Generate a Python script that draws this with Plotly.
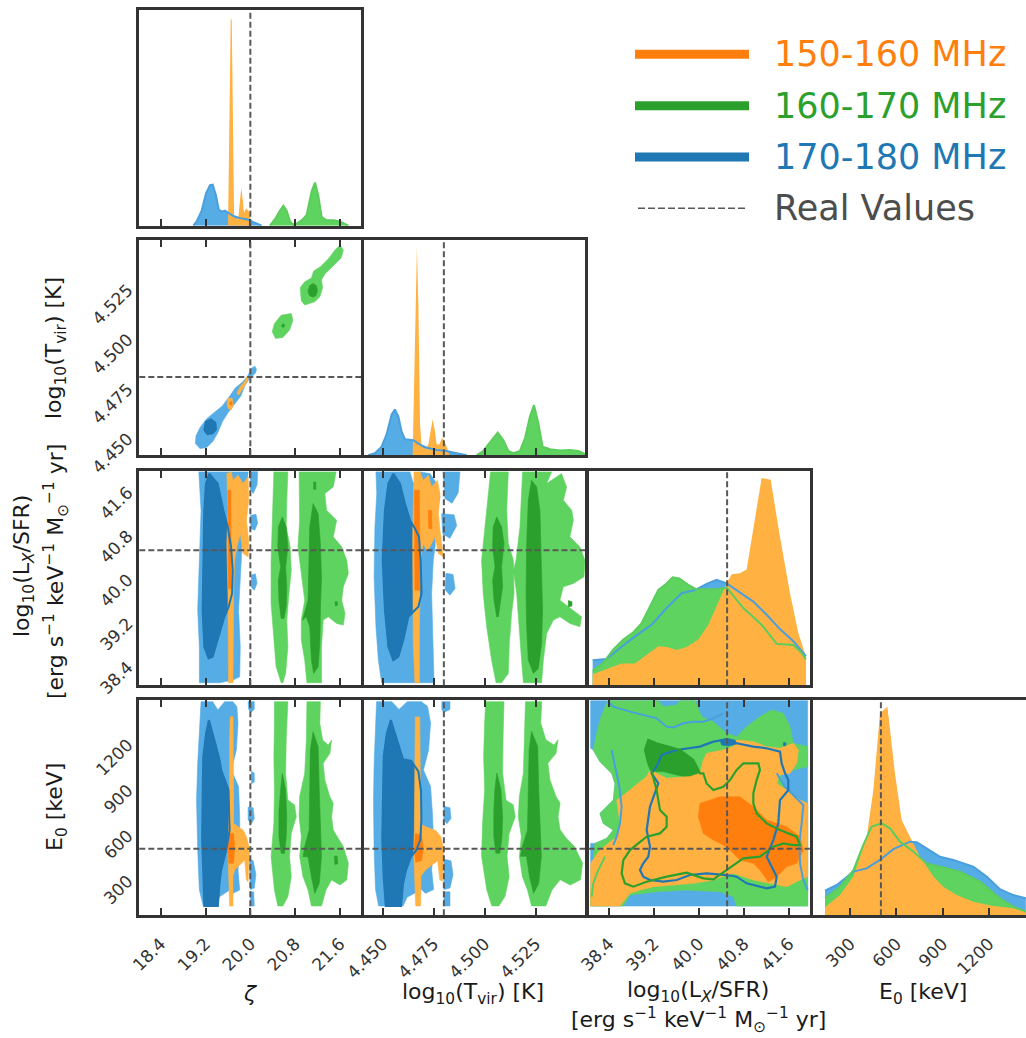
import plotly.graph_objects as go

# ------------------------------------------------------------------
# Parameters, true values and tick labels
# ------------------------------------------------------------------
PARAM_TRUE = [20.0, 4.48, 40.5, 500.0]  # zeta, log10 Tvir, log10 Lx/SFR, E0

ZETA_TICKS = [18.4, 19.2, 20.0, 20.8, 21.6]
ZETA_LABELS = ["18.4", "19.2", "20.0", "20.8", "21.6"]
TVIR_TICKS = [4.450, 4.475, 4.500, 4.525]
TVIR_LABELS = ["4.450", "4.475", "4.500", "4.525"]
LX_TICKS = [38.4, 39.2, 40.0, 40.8, 41.6]
LX_LABELS = ["38.4", "39.2", "40.0", "40.8", "41.6"]
E0_TICKS = [300, 600, 900, 1200]
E0_LABELS = ["300", "600", "900", "1200"]

BAND_NAMES = ["150-160 MHz", "160-170 MHz", "170-180 MHz"]
TRUTH_NAME = "Real Values"

# ------------------------------------------------------------------
# 1D marginal posteriors (normalised to the panel height)
# ------------------------------------------------------------------
ZETA_X_BLUE = [18.983, 19.042, 19.132, 19.209, 19.280, 19.328, 19.387, 19.435, 19.488,
               19.548, 19.607, 19.697, 19.816, 19.935, 20.024, 20.113, 20.202]
ZETA_P_BLUE = [0.0, 0.02, 0.07, 0.15, 0.188, 0.19, 0.14, 0.075, 0.065,
               0.07, 0.06, 0.045, 0.035, 0.03, 0.02, 0.01, 0.0]
ZETA_X_ORANGE = [19.602, 19.630, 19.650, 19.668, 19.690, 19.710, 19.744, 19.786, 19.816,
                 19.839, 19.863, 19.887, 19.923, 19.964, 19.994, 20.018]
ZETA_P_ORANGE = [0.0, 0.45, 0.963, 0.95, 0.45, 0.05, 0.03, 0.04, 0.12,
                 0.176, 0.12, 0.06, 0.08, 0.07, 0.05, 0.0]
ZETA_X_GREEN = [20.351, 20.440, 20.529, 20.589, 20.648, 20.708, 20.767, 20.827, 20.916, 21.005,
                21.094, 21.154, 21.213, 21.273, 21.362, 21.481, 21.600, 21.689, 21.749]
ZETA_P_GREEN = [0.0, 0.03, 0.07, 0.092, 0.07, 0.02, 0.005, 0.01, 0.025, 0.05,
                0.16, 0.2, 0.14, 0.04, 0.025, 0.025, 0.02, 0.01, 0.0]

TVIR_X_BLUE = [4.4430, 4.4462, 4.4495, 4.4520, 4.4544, 4.4560, 4.4577, 4.4593, 4.4609,
               4.4634, 4.4650, 4.4683, 4.4716, 4.4765, 4.4814, 4.4863, 4.4912]
TVIR_P_BLUE = [0.0, 0.01, 0.04, 0.10, 0.19, 0.213, 0.18, 0.11, 0.075,
               0.074, 0.07, 0.05, 0.035, 0.025, 0.02, 0.01, 0.0]
TVIR_X_ORANGE = [4.4647, 4.4655, 4.4663, 4.4668, 4.4675, 4.4683, 4.4691, 4.4708, 4.4724,
                 4.4735, 4.4745, 4.4755, 4.4765, 4.4778, 4.4791, 4.4801, 4.4814, 4.4827]
TVIR_P_ORANGE = [0.0, 0.4, 0.9, 0.966, 0.7, 0.15, 0.04, 0.03, 0.05,
                 0.12, 0.167, 0.12, 0.05, 0.05, 0.08, 0.07, 0.04, 0.0]
TVIR_X_GREEN = [4.4961, 4.4993, 4.5026, 4.5064, 4.5092, 4.5116, 4.5141, 4.5173, 4.5198,
                4.5222, 4.5242, 4.5263, 4.5284, 4.5320, 4.5369, 4.5418, 4.5459, 4.5492]
TVIR_P_GREEN = [0.0, 0.02, 0.06, 0.105, 0.07, 0.02, 0.01, 0.02, 0.08,
                0.18, 0.233, 0.15, 0.04, 0.028, 0.022, 0.025, 0.02, 0.005]

LX_X_BLUE = [38.110, 38.359, 38.596, 38.862, 39.159, 39.425, 39.692, 39.929, 40.136,
             40.314, 40.492, 40.788, 40.966, 41.203, 41.440, 41.677, 41.902]
LX_P_BLUE = [0.117, 0.123, 0.174, 0.228, 0.282, 0.36, 0.429, 0.444, 0.472,
             0.491, 0.475, 0.421, 0.39, 0.329, 0.262, 0.205, 0.136]
LX_X_GREEN = [38.110, 38.299, 38.477, 38.655, 38.833, 38.981, 39.129, 39.277, 39.396, 39.532, 39.650,
              39.810, 39.947, 40.136, 40.314, 40.492, 40.788, 41.114, 41.381, 41.677, 41.825, 41.902]
LX_P_GREEN = [0.066, 0.105, 0.167, 0.213, 0.247, 0.29, 0.367, 0.444, 0.468, 0.503, 0.498,
              0.468, 0.448, 0.448, 0.448, 0.455, 0.36, 0.282, 0.193, 0.188, 0.151, 0.12]
LX_X_ORANGE = [38.110, 38.418, 38.625, 38.862, 39.070, 39.277, 39.425, 39.603, 39.781, 39.988, 40.166, 40.344,
               40.492, 40.581, 40.729, 40.847, 40.966, 41.114, 41.274, 41.440, 41.618, 41.766, 41.902]
LX_P_ORANGE = [0.051, 0.082, 0.102, 0.102, 0.144, 0.182, 0.179, 0.164, 0.179, 0.213, 0.282, 0.383,
               0.475, 0.517, 0.522, 0.54, 0.738, 0.966, 0.958, 0.691, 0.429, 0.244, 0.133]

E0_X_BLUE = [138, 214, 322, 408, 494, 581, 688, 732, 796, 883, 969, 1098, 1185, 1271, 1357, 1439]
E0_P_BLUE = [0.115, 0.141, 0.203, 0.218, 0.257, 0.307, 0.342, 0.339, 0.311, 0.272, 0.257,
             0.226, 0.18, 0.121, 0.094, 0.079]
E0_X_GREEN = [138, 235, 322, 386, 440, 505, 559, 624, 710, 796, 883, 1012, 1142, 1271, 1357, 1439]
E0_P_GREEN = [0.079, 0.133, 0.21, 0.327, 0.412, 0.427, 0.404, 0.342, 0.296, 0.241, 0.226,
              0.203, 0.156, 0.079, 0.04, 0.017]
E0_X_ORANGE = [138, 235, 322, 408, 451, 494, 542, 591, 634, 688, 753, 840, 904, 991, 1098, 1228, 1357, 1439]
E0_P_ORANGE = [0.037, 0.094, 0.18, 0.365, 0.582, 0.938, 0.969, 0.66, 0.443, 0.365, 0.272, 0.18,
               0.133, 0.094, 0.063, 0.043, 0.033, 0.015]

# ------------------------------------------------------------------
# 2D credible regions (95% = light, 68% = dark), polygons in data units
# ------------------------------------------------------------------
# zeta vs log10 Tvir
ZT_BLUE_95 = [[(19.10, 4.4440), (19.02, 4.4465), (19.03, 4.4505), (19.10, 4.4545), (19.22, 4.4590),
               (19.36, 4.4625), (19.50, 4.4655), (19.62, 4.4700), (19.73, 4.4745), (19.86, 4.4775),
               (19.95, 4.4805), (20.02, 4.4845), (20.08, 4.4855), (20.11, 4.4840), (20.09, 4.4820),
               (19.99, 4.4795), (19.90, 4.4755), (19.83, 4.4705), (19.72, 4.4665), (19.60, 4.4620),
               (19.50, 4.4575), (19.42, 4.4520), (19.33, 4.4475), (19.22, 4.4445)]]
ZT_BLUE_68 = [[(19.178, 4.4533), (19.207, 4.4575), (19.297, 4.4587), (19.375, 4.4570),
               (19.387, 4.4536), (19.327, 4.4517), (19.237, 4.4513)]]
ZT_GREEN_95 = [[(21.60, 4.5465), (21.66, 4.5440), (21.62, 4.5400), (21.45, 4.5350), (21.33, 4.5320),
                (21.27, 4.5290), (21.29, 4.5250), (21.24, 4.5205), (21.15, 4.5180), (20.97, 4.5163),
                (20.91, 4.5185), (20.89, 4.5250), (20.97, 4.5280), (21.09, 4.5300), (21.13, 4.5335),
                (21.25, 4.5356), (21.39, 4.5395), (21.51, 4.5440)],
               [(20.73, 4.5121), (20.76, 4.5087), (20.70, 4.5037), (20.58, 4.5000), (20.45, 4.4995),
                (20.39, 4.5029), (20.43, 4.5070), (20.55, 4.5112)]]
ZT_GREEN_68 = [[(21.03, 4.5235), (21.06, 4.5262), (21.12, 4.5272), (21.18, 4.5260), (21.20, 4.5235),
                (21.17, 4.5210), (21.11, 4.5203), (21.05, 4.5213)],
               [(20.56, 4.5055), (20.57, 4.5068), (20.60, 4.5068), (20.61, 4.5056), (20.59, 4.5050)]]
ZT_ORANGE_95 = [[(19.602, 4.4693), (19.674, 4.4693), (19.698, 4.4659), (19.656, 4.4634),
                 (19.602, 4.4643), (19.584, 4.4668)],
                [(19.758, 4.4718), (19.818, 4.4752), (19.895, 4.4777), (19.937, 4.4802),
                 (19.973, 4.4799), (19.925, 4.4768), (19.853, 4.4738), (19.793, 4.4710)]]
ZT_ORANGE_68 = [[(19.63, 4.4672), (19.66, 4.4680), (19.68, 4.4668), (19.66, 4.4658), (19.63, 4.4662)]]

# zeta vs log10 Lx/SFR
ZL_BLUE_95 = [[(19.08, 41.935), (19.12, 41.234), (19.09, 40.32), (19.06, 39.406), (19.09, 38.735),
               (19.09, 38.077), (19.45, 38.077), (19.69, 38.126), (19.81, 38.187), (19.82, 38.735),
               (19.79, 39.406), (19.82, 40.015), (19.87, 40.93), (19.93, 41.54), (19.96, 41.935)],
              [(20.00, 41.94), (20.13, 41.94), (20.12, 41.70), (20.05, 41.54), (20.00, 41.62)],
              [(20.00, 41.14), (20.10, 41.16), (20.13, 41.00), (20.08, 40.87), (20.01, 40.90)],
              [(20.02, 40.05), (20.09, 40.07), (20.12, 39.90), (20.07, 39.77), (20.02, 39.82)]]
ZL_BLUE_68 = [[(19.267, 41.905), (19.417, 41.722), (19.518, 41.234), (19.596, 40.930), (19.656, 40.564),
               (19.686, 40.137), (19.674, 39.711), (19.614, 39.467), (19.536, 39.284), (19.417, 38.857),
               (19.327, 38.553), (19.255, 38.522), (19.178, 38.735), (19.148, 39.406), (19.160, 40.320),
               (19.178, 41.234), (19.207, 41.722)]]
ZL_GREEN_95 = [[(20.42, 41.935), (20.67, 41.935), (20.65, 41.417), (20.64, 40.930), (20.71, 40.564),
                (20.73, 40.137), (20.69, 39.710), (20.65, 39.223), (20.67, 38.735), (20.63, 38.248),
                (20.58, 38.077), (20.55, 38.077), (20.46, 38.369), (20.42, 38.857), (20.37, 39.528),
                (20.37, 40.320), (20.39, 40.930), (20.42, 41.540)],
               [(20.87, 41.935), (21.53, 41.935), (21.48, 41.661), (21.33, 41.540), (21.36, 41.234),
                (21.54, 41.051), (21.48, 40.747), (21.63, 40.564), (21.72, 40.320), (21.75, 40.076),
                (21.66, 39.833), (21.63, 39.589), (21.69, 39.345), (21.66, 39.132), (21.54, 39.162),
                (21.39, 39.284), (21.30, 39.223), (21.27, 38.735), (21.27, 38.077), (21.01, 38.077),
                (20.97, 38.491), (20.91, 38.857), (20.91, 39.223), (20.97, 39.589), (20.91, 40.076),
                (20.85, 40.564), (20.88, 41.051), (20.87, 41.540)]]
ZL_GREEN_68 = [[(20.57, 41.112), (20.64, 40.930), (20.67, 40.564), (20.63, 40.198), (20.65, 39.833),
                (20.64, 39.467), (20.60, 39.254), (20.55, 39.254), (20.51, 39.589), (20.50, 39.955),
                (20.54, 40.198), (20.49, 40.564), (20.50, 40.930)],
               [(21.12, 41.356), (21.21, 41.173), (21.25, 40.625), (21.27, 40.015), (21.25, 39.406),
                (21.24, 38.796), (21.21, 38.369), (21.13, 38.248), (21.09, 38.491), (21.06, 39.101),
                (21.00, 39.284), (20.93, 39.223), (21.03, 39.589), (21.05, 40.320), (21.06, 40.930)],
               [(21.51, 39.56), (21.55, 39.56), (21.56, 39.50), (21.52, 39.48)],
               [(21.13, 41.75), (21.17, 41.75), (21.17, 41.62), (21.13, 41.62)]]
ZL_ORANGE_95 = [[(19.58, 41.905), (19.66, 41.935), (19.69, 41.783), (19.78, 41.874), (19.87, 41.722),
                 (19.96, 41.844), (19.97, 41.417), (19.93, 41.051), (19.97, 40.686), (19.96, 40.381),
                 (19.87, 40.442), (19.82, 40.808), (19.76, 40.564), (19.72, 40.320), (19.70, 39.710),
                 (19.70, 39.100), (19.69, 38.490), (19.69, 38.077), (19.61, 38.077), (19.61, 38.796),
                 (19.60, 39.710), (19.58, 40.625), (19.60, 41.234)]]
ZL_ORANGE_68 = [[(19.60, 41.60), (19.65, 41.60), (19.66, 39.80), (19.61, 39.80)]]

# zeta vs E0
ZE_BLUE_95 = [[(19.12, 1470.7), (19.33, 1470.7), (19.42, 1415.7), (19.54, 1470.7), (19.69, 1470.7),
               (19.76, 1437.7), (19.78, 1327.7), (19.75, 1151.6), (19.66, 1019.6), (19.79, 909.5),
               (19.81, 711.4), (19.81, 513.3), (19.78, 359.2), (19.81, 227.1), (19.69, 205.1),
               (19.63, 227.1), (19.45, 183.1), (19.39, 121.5), (19.16, 121.5), (19.09, 227.1),
               (19.06, 491.3), (19.04, 821.4), (19.06, 1063.6), (19.09, 1283.6)],
              [(19.96, 1471), (20.07, 1471), (20.07, 1420), (20.01, 1400), (19.97, 1420)],
              [(20.02, 1010), (20.07, 1000), (20.07, 940), (20.02, 930)],
              [(19.96, 775), (20.05, 770), (20.07, 700), (20.02, 665), (19.96, 690)],
              [(19.98, 430), (20.05, 420), (20.10, 330), (20.07, 240), (20.00, 230)],
              [(20.00, 215), (20.06, 215), (20.07, 121.5), (20.00, 121.5)]]
ZE_BLUE_68 = [[(19.26, 1349.7), (19.33, 1261.6), (19.39, 1173.6), (19.45, 1085.5), (19.48, 1019.6),
               (19.61, 887.5), (19.63, 623.3), (19.57, 491.3), (19.48, 359.2), (19.45, 271.1),
               (19.42, 121.5), (19.18, 121.5), (19.16, 315.2), (19.14, 557.3), (19.15, 887.5),
               (19.16, 1107.6), (19.21, 1261.6)]]
ZE_GREEN_95 = [[(20.43, 1470.7), (20.67, 1470.7), (20.64, 1217.6), (20.63, 997.5), (20.67, 821.4),
                (20.79, 788.4), (20.82, 711.4), (20.73, 601.3), (20.70, 447.2), (20.73, 315.2),
                (20.67, 183.1), (20.58, 121.5), (20.49, 121.5), (20.43, 227.1), (20.37, 447.2),
                (20.42, 667.4), (20.43, 887.5), (20.42, 1107.6), (20.43, 1327.7)],
               [(21.01, 1470.7), (21.25, 1470.7), (21.24, 1327.7), (21.29, 1217.6), (21.39, 1184.6),
                (21.45, 1217.6), (21.42, 1129.6), (21.30, 1063.6), (21.33, 953.5), (21.42, 843.4),
                (21.48, 799.4), (21.45, 711.4), (21.48, 623.3), (21.57, 568.3), (21.66, 513.3),
                (21.75, 403.2), (21.72, 293.2), (21.60, 260.1), (21.45, 293.2), (21.35, 227.1),
                (21.27, 121.5), (21.09, 121.5), (21.03, 227.1), (20.94, 315.2), (20.88, 447.2),
                (20.91, 579.3), (20.87, 711.4), (20.88, 843.4), (20.97, 997.5), (21.00, 1217.6)]]
ZE_GREEN_68 = [[(20.57, 997.5), (20.63, 887.5), (20.65, 711.4), (20.64, 579.3), (20.61, 469.2),
                (20.55, 469.2), (20.51, 579.3), (20.51, 755.4), (20.54, 887.5)],
               [(21.12, 1272.6), (21.21, 1173.6), (21.23, 887.5), (21.25, 623.3), (21.27, 447.2),
                (21.23, 271.1), (21.15, 205.1), (21.09, 315.2), (21.03, 447.2), (20.94, 447.2),
                (20.97, 513.3), (21.05, 623.3), (21.06, 887.5), (21.07, 1151.6)],
               [(21.50, 450), (21.55, 450), (21.56, 400), (21.51, 395)]]
ZE_ORANGE_95 = [[(19.64, 1371.7), (19.69, 1371.7), (19.70, 887.5), (19.70, 667.4), (19.78, 645.3),
                 (19.87, 623.3), (19.93, 579.3), (19.99, 491.3), (19.97, 403.2), (19.96, 282.1),
                 (19.93, 293.2), (19.90, 425.2), (19.81, 392.2), (19.72, 359.2), (19.69, 315.2),
                 (19.69, 121.5), (19.63, 121.5), (19.61, 315.2), (19.60, 491.3), (19.61, 623.3),
                 (19.63, 887.5), (19.63, 1217.6)]]
ZE_ORANGE_68 = [[(19.61, 601), (19.70, 601), (19.72, 500), (19.70, 403), (19.62, 403), (19.60, 500)]]

# log10 Tvir vs log10 Lx/SFR
TL_BLUE_95 = [[(4.4467, 41.935), (4.4634, 41.935), (4.4650, 41.722), (4.4683, 41.935), (4.4732, 41.905),
               (4.4765, 41.722), (4.4781, 41.478), (4.4761, 41.051), (4.4757, 40.564), (4.4748, 40.320),
               (4.4740, 39.710), (4.4745, 39.101), (4.4748, 38.491), (4.4752, 38.077), (4.4495, 38.077),
               (4.4479, 38.491), (4.4467, 39.101), (4.4458, 40.015), (4.4462, 40.930), (4.4471, 41.540)],
              [(4.4797, 41.935), (4.4879, 41.935), (4.4870, 41.55), (4.4840, 41.36), (4.4805, 41.45)],
              [(4.4789, 41.17), (4.4850, 41.15), (4.4863, 40.95), (4.4830, 40.72), (4.4795, 40.80)],
              [(4.4810, 40.08), (4.4845, 40.06), (4.4855, 39.80), (4.4830, 39.68), (4.4806, 39.78)]]
TL_BLUE_68 = [[(4.4552, 41.905), (4.4585, 41.722), (4.4609, 41.356), (4.4634, 41.051), (4.4658, 40.899),
               (4.4678, 40.747), (4.4686, 40.320), (4.4691, 39.711), (4.4675, 39.467), (4.4650, 39.375),
               (4.4626, 39.284), (4.4601, 38.857), (4.4577, 38.553), (4.4552, 38.491), (4.4528, 38.735),
               (4.4511, 39.406), (4.4500, 40.320), (4.4511, 41.234), (4.4528, 41.722)]]
TL_GREEN_95 = [[(4.5029, 41.935), (4.5116, 41.935), (4.5108, 41.234), (4.5116, 40.625), (4.5141, 40.320),
                (4.5144, 39.710), (4.5132, 39.345), (4.5121, 38.796), (4.5116, 38.248), (4.5083, 38.077),
                (4.5056, 38.077), (4.5034, 38.491), (4.5010, 39.101), (4.4993, 39.710), (4.4985, 40.320),
                (4.5002, 40.930), (4.5018, 41.540)],
               [(4.5186, 41.935), (4.5328, 41.935), (4.5304, 41.722), (4.5377, 41.905), (4.5402, 41.661),
                (4.5386, 41.417), (4.5427, 41.234), (4.5435, 41.051), (4.5418, 40.747), (4.5467, 40.564),
                (4.5492, 40.320), (4.5487, 40.015), (4.5435, 39.894), (4.5386, 39.833), (4.5369, 39.589),
                (4.5435, 39.406), (4.5475, 39.284), (4.5467, 39.101), (4.5418, 39.162), (4.5369, 39.284),
                (4.5337, 39.223), (4.5304, 38.979), (4.5288, 38.491), (4.5279, 38.077), (4.5190, 38.077),
                (4.5181, 38.491), (4.5170, 39.101), (4.5157, 39.710), (4.5141, 40.137), (4.5154, 40.320),
                (4.5173, 40.930), (4.5181, 41.540)]]
TL_GREEN_68 = [[(4.5059, 41.112), (4.5083, 40.930), (4.5095, 40.625), (4.5083, 40.198), (4.5088, 39.833),
                (4.5075, 39.467), (4.5067, 39.284), (4.5059, 39.284), (4.5046, 39.589), (4.5039, 39.955),
                (4.5051, 40.198), (4.5039, 40.564), (4.5042, 40.930)],
               [(4.5230, 41.783), (4.5255, 41.661), (4.5271, 41.234), (4.5279, 40.320), (4.5284, 39.406),
                (4.5279, 38.796), (4.5263, 38.339), (4.5239, 38.248), (4.5214, 38.491), (4.5206, 39.101),
                (4.5203, 39.710), (4.5206, 40.625), (4.5214, 41.417)],
               [(4.5410, 39.58), (4.5428, 39.56), (4.5428, 39.48), (4.5410, 39.47)]]
TL_ORANGE_95 = [[(4.4654, 41.935), (4.4683, 41.935), (4.4699, 41.783), (4.4724, 41.874), (4.4740, 41.661),
                 (4.4768, 41.783), (4.4781, 41.540), (4.4773, 41.173), (4.4781, 40.869), (4.4789, 40.625),
                 (4.4797, 40.381), (4.4773, 40.442), (4.4757, 40.747), (4.4732, 40.564), (4.4716, 40.503),
                 (4.4699, 40.625), (4.4686, 40.320), (4.4683, 39.710), (4.4680, 39.101), (4.4680, 38.077),
                 (4.4658, 38.077), (4.4650, 38.796), (4.4647, 39.710), (4.4647, 40.625), (4.4650, 41.417)]]
TL_ORANGE_68 = [[(4.4655, 41.60), (4.4680, 41.60), (4.4683, 39.77), (4.4658, 39.77)],
                [(4.4724, 41.23), (4.4740, 41.23), (4.4742, 40.90), (4.4726, 40.90)]]

# log10 Tvir vs E0
TE_BLUE_95 = [[(4.4470, 1471), (4.4545, 1471), (4.4580, 1420), (4.4620, 1471), (4.4690, 1471),
               (4.4720, 1440), (4.4735, 1330), (4.4725, 1150), (4.4700, 1020), (4.4735, 910),
               (4.4745, 710), (4.4750, 510), (4.4740, 360), (4.4750, 230), (4.4710, 205),
               (4.4690, 230), (4.4620, 180), (4.4600, 122), (4.4480, 122), (4.4465, 230),
               (4.4458, 490), (4.4455, 820), (4.4458, 1060), (4.4465, 1280)],
              [(4.4790, 1471), (4.4830, 1471), (4.4830, 1420), (4.4800, 1400), (4.4790, 1420)],
              [(4.4800, 780), (4.4830, 770), (4.4835, 700), (4.4815, 665), (4.4800, 690)],
              [(4.4800, 430), (4.4835, 420), (4.4845, 330), (4.4830, 240), (4.4800, 230)],
              [(4.4800, 215), (4.4830, 215), (4.4830, 122), (4.4800, 122)]]
TE_BLUE_68 = [[(4.4540, 1350), (4.4560, 1260), (4.4580, 1170), (4.4600, 1090), (4.4640, 1080),
               (4.4675, 1010), (4.4688, 880), (4.4690, 700), (4.4685, 560), (4.4665, 490),
               (4.4640, 450), (4.4615, 360), (4.4600, 270), (4.4590, 122), (4.4515, 122),
               (4.4505, 315), (4.4498, 560), (4.4500, 890), (4.4505, 1110), (4.4520, 1260)]]
TE_GREEN_95 = [[(4.5005, 1471), (4.5095, 1471), (4.5090, 1220), (4.5088, 1000), (4.5105, 820),
                (4.5140, 790), (4.5150, 710), (4.5120, 600), (4.5110, 450), (4.5120, 315),
                (4.5100, 185), (4.5070, 122), (4.5035, 122), (4.5010, 230), (4.4985, 450),
                (4.4990, 670), (4.5000, 890), (4.4995, 1110), (4.5000, 1330)],
               [(4.5200, 1471), (4.5280, 1471), (4.5275, 1330), (4.5300, 1220), (4.5340, 1185),
                (4.5360, 1220), (4.5350, 1130), (4.5310, 1065), (4.5320, 955), (4.5350, 845),
                (4.5370, 800), (4.5360, 710), (4.5370, 625), (4.5400, 570), (4.5440, 515),
                (4.5480, 405), (4.5470, 295), (4.5420, 260), (4.5370, 295), (4.5330, 227),
                (4.5300, 122), (4.5230, 122), (4.5210, 227), (4.5185, 315), (4.5170, 450),
                (4.5180, 580), (4.5165, 710), (4.5170, 845), (4.5190, 1000), (4.5195, 1220)]]
TE_GREEN_68 = [[(4.5060, 1000), (4.5080, 890), (4.5088, 710), (4.5085, 580), (4.5075, 470),
                (4.5055, 470), (4.5045, 580), (4.5045, 755), (4.5050, 890)],
               [(4.5230, 1275), (4.5260, 1175), (4.5265, 890), (4.5272, 620), (4.5278, 450),
                (4.5265, 270), (4.5240, 205), (4.5220, 315), (4.5205, 450), (4.5175, 450),
                (4.5185, 515), (4.5210, 620), (4.5215, 890), (4.5218, 1150)]]
TE_ORANGE_95 = [[(4.4660, 1370), (4.4682, 1370), (4.4685, 900), (4.4688, 660), (4.4720, 640),
                 (4.4760, 620), (4.4785, 580), (4.4800, 490), (4.4798, 400), (4.4792, 285),
                 (4.4780, 295), (4.4770, 420), (4.4740, 390), (4.4710, 360), (4.4688, 320),
                 (4.4686, 122), (4.4662, 122), (4.4658, 320), (4.4652, 490), (4.4655, 620),
                 (4.4658, 900), (4.4658, 1210)]]
TE_ORANGE_68 = [[(4.4660, 600), (4.4690, 590), (4.4700, 500), (4.4690, 420), (4.4662, 410), (4.4655, 500)]]

# log10 Lx/SFR vs E0
LE_BLUE_95 = [[(38.074, 1477), (41.932, 1477), (41.932, 121.5), (38.074, 121.5), (38.074, 535),
               (38.151, 535), (38.359, 568), (38.477, 623), (38.299, 667), (38.240, 733),
               (38.477, 821), (38.507, 931), (38.447, 998), (38.240, 1075), (38.121, 1152),
               (38.074, 1163)]]
LE_GREEN_95 = [[(38.388, 1477), (39.277, 1477), (39.366, 1438), (39.603, 1449), (39.662, 1477),
                (39.929, 1477), (40.047, 1372), (40.255, 1339), (40.492, 1262), (40.670, 1240),
                (40.847, 1306), (41.084, 1372), (41.292, 1416), (41.499, 1394), (41.618, 1306),
                (41.677, 1196), (41.932, 1174), (41.932, 1042), (41.677, 1020), (41.440, 987),
                (41.529, 909), (41.796, 821), (41.932, 799), (41.932, 121.5), (40.670, 121.5),
                (40.610, 183), (40.373, 216), (39.781, 227), (39.247, 216), (38.773, 194),
                (38.655, 121.5), (38.074, 121.5), (38.074, 227), (38.151, 315), (38.181, 403),
                (38.121, 447), (38.151, 535), (38.359, 568), (38.477, 623), (38.299, 667),
                (38.240, 733), (38.477, 821), (38.507, 931), (38.447, 998), (38.240, 1075),
                (38.121, 1152), (38.181, 1262), (38.240, 1350), (38.329, 1438)]]
LE_GREEN_68 = [[(39.099, 1218), (39.247, 1196), (39.662, 1152), (39.899, 1086), (40.018, 998),
                (39.899, 965), (39.603, 987), (39.366, 1009), (39.159, 1009), (39.099, 1064),
                (39.040, 1152)]]
LE_ORANGE_95 = [[(38.074, 403), (38.240, 491), (38.536, 579), (38.596, 667), (38.536, 821),
                 (38.625, 843), (39.070, 976), (39.129, 1020), (39.425, 965), (39.840, 976),
                 (40.018, 998), (40.077, 1086), (40.136, 1130), (40.433, 1152), (40.610, 1174),
                 (40.670, 1218), (40.966, 1207), (41.203, 1174), (41.440, 1163), (41.677, 1196),
                 (41.766, 1152), (41.736, 1064), (41.618, 998), (41.440, 987), (41.381, 931),
                 (41.559, 887), (41.796, 821), (41.932, 799), (41.932, 315), (41.796, 293),
                 (41.559, 249), (40.966, 293), (40.788, 315), (40.610, 337), (40.492, 326),
                 (40.255, 293), (39.899, 271), (39.544, 260), (39.188, 249), (38.951, 227),
                 (38.773, 205), (38.596, 121.5), (38.074, 121.5)]]
LE_ORANGE_68 = [[(40.018, 799), (40.373, 843), (40.729, 843), (40.966, 777), (41.203, 689),
                 (41.559, 645), (41.796, 579), (41.855, 491), (41.736, 403), (41.559, 381),
                 (41.381, 315), (41.233, 282), (41.084, 359), (40.966, 403), (40.729, 425),
                 (40.492, 513), (40.255, 557), (40.077, 601), (39.988, 711)]]
LE_BLUE_68_PEAK = [[(40.373, 1218), (40.492, 1229), (40.640, 1218), (40.670, 1191), (40.522, 1178),
                    (40.403, 1185)],
                   [(41.50, 1200), (41.545, 1200), (41.545, 1180), (41.50, 1180)]]
LE_BLUE_68_EDGE = [[(39.247, 1042), (39.336, 1119), (39.603, 1152), (40.018, 1174), (40.255, 1207),
                    (40.492, 1222), (40.670, 1196), (40.966, 1174), (41.203, 1163), (41.440, 1141),
                    (41.470, 1064), (41.529, 998), (41.588, 953), (41.588, 887), (41.440, 821),
                    (41.410, 667), (41.322, 557), (41.203, 447), (41.292, 381), (41.381, 315),
                    (41.351, 249), (41.203, 238), (40.847, 271), (40.670, 315), (40.492, 326),
                    (40.136, 337), (39.840, 326), (39.603, 293), (39.366, 282), (39.129, 293),
                    (39.010, 315), (38.951, 359), (39.010, 403), (39.099, 447), (39.129, 513),
                    (39.070, 623), (39.129, 777), (39.218, 865), (39.277, 931), (39.159, 998),
                    (39.247, 1042)]]
LE_GREEN_68_EDGE = [[(39.159, 1009), (39.247, 887), (39.277, 821), (39.307, 755), (39.425, 711),
                     (39.425, 645), (39.307, 601), (39.070, 579), (38.921, 535), (38.773, 491),
                     (38.655, 425), (38.625, 337), (38.684, 271), (38.833, 249), (39.070, 282),
                     (39.425, 315), (39.781, 341), (40.077, 304), (40.255, 297), (40.492, 359),
                     (40.788, 436), (41.084, 447), (41.322, 513), (41.499, 535), (41.677, 524),
                     (41.796, 524), (41.736, 579), (41.440, 623), (41.203, 667), (41.025, 733),
                     (40.966, 799), (40.966, 865), (41.025, 953), (41.084, 1020), (41.055, 1064),
                     (40.907, 1064), (40.788, 1064), (40.670, 1020), (40.551, 953), (40.433, 909),
                     (40.255, 887), (40.136, 931), (40.077, 998), (40.018, 998), (39.899, 1086),
                     (39.662, 1152), (39.247, 1196), (39.099, 1218), (39.040, 1152), (39.099, 1064),
                     (39.159, 1009)]]
LE_BLUE_95_EDGE = [[(38.388, 1471), (38.477, 1438), (38.773, 1405), (39.247, 1361), (39.425, 1306),
                    (39.544, 1301), (39.721, 1328), (39.899, 1339), (40.077, 1339), (40.255, 1361),
                    (40.433, 1394)],
                   [(38.447, 1152), (38.507, 1042), (38.584, 909), (38.625, 777), (38.596, 667),
                    (38.536, 579), (38.477, 524)],
                   [(41.381, 998), (41.529, 909), (41.766, 821), (41.855, 788), (41.825, 667),
                    (41.784, 535), (41.796, 403), (41.855, 293), (41.932, 227)]]
LE_GREEN_95_EDGE = [[(38.092, 183), (38.121, 271), (38.210, 359), (38.329, 447)]]

# ------------------------------------------------------------------
# Styling and panel geometry (pixels of the 1026 x 1038 canvas)
# ------------------------------------------------------------------
W, H = 1026, 1038
BLUE, BLUE_L, BLUE_LINE = "#1f77b4", "#56ace5", "#4a9fdc"
GREEN, GREEN_L, GREEN_LINE = "#2ca02c", "#5fd35f", "#5ccd5c"
ORANGE, ORANGE_L = "#ff7f0e", "#ffb142"
AXIS_COLOR = "#333333"
TRUTH_COLOR = "#585858"
FONT = "DejaVu Sans"

COL_PX = [(139.3, 361.0), (363.5, 585.0), (588.5, 809.8), (813.0, 1026.0)]
ROW_PX = [(10.0, 225.7), (240.0, 455.3), (470.7, 685.3), (700.0, 915.3)]
X_RANGES = [[18.018, 21.975], [4.4406, 4.5492], [38.036, 41.970], [60.0, 1440.0]]
Y_RANGES = [None, [4.4406, 4.5491], [38.030, 41.958], [60.0, 1482.0]]
TICKS = [(ZETA_TICKS, ZETA_LABELS), (TVIR_TICKS, TVIR_LABELS), (LX_TICKS, LX_LABELS), (E0_TICKS, E0_LABELS)]

MARGINALS = [
    [(ZETA_X_BLUE, ZETA_P_BLUE), (ZETA_X_GREEN, ZETA_P_GREEN), (ZETA_X_ORANGE, ZETA_P_ORANGE)],
    [(TVIR_X_BLUE, TVIR_P_BLUE), (TVIR_X_GREEN, TVIR_P_GREEN), (TVIR_X_ORANGE, TVIR_P_ORANGE)],
    [(LX_X_BLUE, LX_P_BLUE), (LX_X_GREEN, LX_P_GREEN), (LX_X_ORANGE, LX_P_ORANGE)],
    [(E0_X_BLUE, E0_P_BLUE), (E0_X_GREEN, E0_P_GREEN), (E0_X_ORANGE, E0_P_ORANGE)],
]

REGIONS = {
    (1, 0): [ZT_BLUE_95, ZT_BLUE_68, ZT_GREEN_95, ZT_GREEN_68, ZT_ORANGE_95, ZT_ORANGE_68],
    (2, 0): [ZL_BLUE_95, ZL_BLUE_68, ZL_GREEN_95, ZL_GREEN_68, ZL_ORANGE_95, ZL_ORANGE_68],
    (3, 0): [ZE_BLUE_95, ZE_BLUE_68, ZE_GREEN_95, ZE_GREEN_68, ZE_ORANGE_95, ZE_ORANGE_68],
    (2, 1): [TL_BLUE_95, TL_BLUE_68, TL_GREEN_95, TL_GREEN_68, TL_ORANGE_95, TL_ORANGE_68],
    (3, 1): [TE_BLUE_95, TE_BLUE_68, TE_GREEN_95, TE_GREEN_68, TE_ORANGE_95, TE_ORANGE_68],
    (3, 2): [LE_BLUE_95, None, LE_GREEN_95, LE_GREEN_68, LE_ORANGE_95, LE_ORANGE_68],
}
REGION_COLORS = [BLUE_L, BLUE, GREEN_L, GREEN, ORANGE_L, ORANGE]


def px_x(p):
    return p / W


def px_y(p):
    return 1.0 - p / H


fig = go.Figure()
layout = {}
shapes = []
annotations = []

panel_id = {}
k = 0
for r in range(4):
    for c in range(r + 1):
        k += 1
        panel_id[(r, c)] = k


def axis_refs(n):
    return ("x" if n == 1 else f"x{n}"), ("y" if n == 1 else f"y{n}")


def layout_key(kind, n):
    return kind if n == 1 else f"{kind}{n}"


def base_axis(**kw):
    d = dict(showgrid=False, zeroline=False, showline=True, linecolor=AXIS_COLOR, linewidth=3,
             ticks="inside", ticklen=7, tickwidth=2, tickcolor=AXIS_COLOR, automargin=False,
             tickfont=dict(family=FONT, size=17, color=AXIS_COLOR), fixedrange=True)
    d.update(kw)
    return d


def polygons_xy(polys):
    xs, ys = [], []
    for poly in polys:
        px, py = zip(*poly)
        xs += list(px) + [px[0], None]
        ys += list(py) + [py[0], None]
    return xs, ys


def add_fill(xa, ya, polys, color):
    xs, ys = polygons_xy(polys)
    fig.add_trace(go.Scatter(x=xs, y=ys, xaxis=xa, yaxis=ya, mode="lines", fill="toself",
                             fillcolor=color, line=dict(color=color, width=0.6),
                             hoverinfo="skip", showlegend=False))


def add_edge(xa, ya, polys, color, width, closed=False):
    xs, ys = [], []
    for poly in polys:
        px, py = zip(*poly)
        xs += list(px) + ([px[0]] if closed else []) + [None]
        ys += list(py) + ([py[0]] if closed else []) + [None]
    fig.add_trace(go.Scatter(x=xs, y=ys, xaxis=xa, yaxis=ya, mode="lines",
                             line=dict(color=color, width=width),
                             hoverinfo="skip", showlegend=False))


extra_y = 20
for (r, c), n in panel_id.items():
    xa, ya = axis_refs(n)
    x0, x1 = COL_PX[c]
    y0, y1 = ROW_PX[r]
    xdom = [px_x(x0), min(1.0, px_x(x1))]
    ydom = [px_y(y1), px_y(y0)]
    tickvals, ticktext = TICKS[c]
    bottom = r == 3
    diag = r == c

    layout[layout_key("xaxis", n)] = base_axis(
        domain=xdom, anchor=ya, range=X_RANGES[c], tickvals=tickvals, ticktext=ticktext,
        showticklabels=bottom, tickangle=-45, ticklabelstandoff=9,
        mirror=True if diag else "allticks")

    if diag:
        layout[layout_key("yaxis", n)] = base_axis(
            domain=ydom, anchor=xa, range=[0, 1.0], ticks="", showticklabels=False,
            mirror=(c < 3))
        fills = MARGINALS[c]
        for (mx, mp), col in zip(fills, [BLUE_L, GREEN_L, ORANGE_L]):
            fig.add_trace(go.Scatter(x=mx, y=mp, xaxis=xa, yaxis=ya, mode="lines", fill="tozeroy",
                                     fillcolor=col, line=dict(color=col, width=0),
                                     hoverinfo="skip", showlegend=False))
        for (mx, mp), col in zip(fills[:2], [BLUE_LINE, GREEN_LINE]):
            fig.add_trace(go.Scatter(x=mx, y=mp, xaxis=xa, yaxis=ya, mode="lines",
                                     line=dict(color=col, width=2),
                                     hoverinfo="skip", showlegend=False))
    else:
        ytv, ytt = TICKS[r]
        layout[layout_key("yaxis", n)] = base_axis(
            domain=ydom, anchor=xa, range=Y_RANGES[r], tickvals=ytv, ticktext=ytt,
            ticks="", showticklabels=(c == 0), tickangle=-45, ticklabelstandoff=5, mirror=True)
        # right-hand inward ticks
        extra_y += 1
        layout[f"yaxis{extra_y}"] = base_axis(
            overlaying=ya, side="right", anchor=xa, range=Y_RANGES[r], tickvals=ytv,
            showticklabels=False, showline=False)

        regions = REGIONS[(r, c)]
        for polys, col in zip(regions, REGION_COLORS):
            if polys:
                add_fill(xa, ya, polys, col)
        if (r, c) == (3, 2):
            add_fill(xa, ya, LE_BLUE_68_PEAK, BLUE)
            add_edge(xa, ya, LE_BLUE_95_EDGE, BLUE_LINE, 2)
            add_edge(xa, ya, LE_GREEN_95_EDGE, GREEN_LINE, 2)
            add_edge(xa, ya, LE_BLUE_68_EDGE, BLUE, 2.2, closed=True)
            add_edge(xa, ya, LE_GREEN_68_EDGE, GREEN, 2.2, closed=True)
        else:
            add_edge(xa, ya, regions[1], BLUE, 2, closed=True)

        shapes.append(dict(type="line", xref=f"{xa} domain", yref=ya, x0=0, x1=1,
                           y0=PARAM_TRUE[r], y1=PARAM_TRUE[r], layer="above",
                           line=dict(color=TRUTH_COLOR, width=2, dash="6px,3px")))
    shapes.append(dict(type="line", xref=xa, yref=f"{ya} domain", x0=PARAM_TRUE[c], x1=PARAM_TRUE[c],
                       y0=0, y1=1, layer="above",
                       line=dict(color=TRUTH_COLOR, width=2, dash="6px,3px")))

# ------------------------------------------------------------------
# Axis titles
# ------------------------------------------------------------------
TITLE_FONT = dict(family=FONT, size=22, color="#1a1a1a")
ZETA_TITLE = "<i>ζ</i>"
TVIR_TITLE = "log<sub>10</sub>(T<sub>vir</sub>) [K]"
LX_TITLE = "log<sub>10</sub>(L<sub><i>X</i></sub>/SFR)"
LX_UNITS = "[erg s<sup>−1</sup> keV<sup>−1</sup> M<sub>⊙</sub><sup>−1</sup> yr]"
E0_TITLE = "E<sub>0</sub> [keV]"


def title(text, xc, yc, angle=0):
    annotations.append(dict(text=text, xref="paper", yref="paper", x=px_x(xc), y=px_y(yc),
                            xanchor="center", yanchor="middle", showarrow=False,
                            textangle=angle, font=TITLE_FONT))


title(ZETA_TITLE, 250, 993)
title(TVIR_TITLE, 473, 993)
title(E0_TITLE, 923, 993)
title(LX_TITLE, 698, 991)
title(LX_UNITS, 698, 1020)
title(TVIR_TITLE, 56, 348, -90)
title(LX_TITLE, 23, 566, -90)
title(LX_UNITS, 56, 572, -90)
title(E0_TITLE, 56, 807, -90)

# ------------------------------------------------------------------
# Legend (drawn in paper coordinates)
# ------------------------------------------------------------------
LEGEND_COLORS = [ORANGE, GREEN, BLUE]
LEGEND_ROWS = [54.3, 105.7, 157.0]
for name, col, yc in zip(BAND_NAMES, LEGEND_COLORS, LEGEND_ROWS):
    shapes.append(dict(type="line", xref="paper", yref="paper", x0=px_x(635), x1=px_x(749),
                       y0=px_y(yc), y1=px_y(yc), line=dict(color=col, width=9)))
    annotations.append(dict(text=name, xref="paper", yref="paper", x=px_x(772), y=px_y(yc),
                            xanchor="left", yanchor="middle", showarrow=False,
                            font=dict(family=FONT, size=35, color=col)))
shapes.append(dict(type="line", xref="paper", yref="paper", x0=px_x(638), x1=px_x(745),
                   y0=px_y(208.3), y1=px_y(208.3),
                   line=dict(color=TRUTH_COLOR, width=1.5, dash="7px,3px")))
annotations.append(dict(text=TRUTH_NAME, xref="paper", yref="paper", x=px_x(772), y=px_y(208.3),
                        xanchor="left", yanchor="middle", showarrow=False,
                        font=dict(family=FONT, size=35, color="#4d4d4d")))

fig.update_layout(
    width=W, height=H, autosize=False,
    margin=dict(l=0, r=0, t=0, b=0, pad=0, autoexpand=False),
    paper_bgcolor="white", plot_bgcolor="white",
    showlegend=False, hovermode=False,
    shapes=shapes, annotations=annotations,
    **layout,
)

fig.write_html("out.html")
